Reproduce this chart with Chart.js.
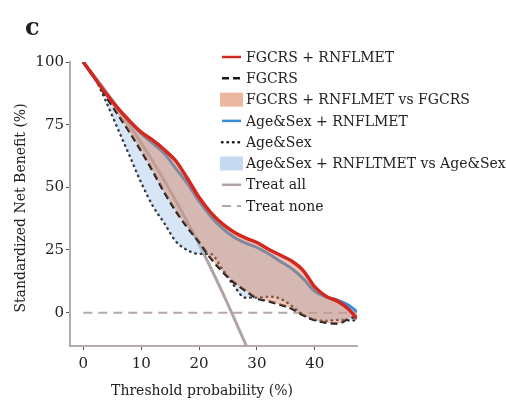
<!DOCTYPE html>
<html>
<head>
<meta charset="utf-8">
<script src="https://cdn.jsdelivr.net/npm/chart.js@4.4.1/dist/chart.umd.min.js"></script>
<style>
  html, body { margin: 0; padding: 0; background: #fff; }
  canvas { display: block; }
</style>
</head>
<body>
<canvas id="grafico" width="506" height="404"></canvas>
<script>
/* -------------------- DADOS -------------------- */
// threshold probability (%) shared by the four model curves
const thresholds    = [0, 2, 4, 6, 8, 10, 12, 14, 16, 18, 20, 22, 24, 26, 28, 30, 32, 34, 36, 38, 40, 42, 44, 46, 47.3];
const fgcrsRnflmet  = [100, 93.5, 87.2, 81.5, 76.5, 72, 68.8, 65, 60.5, 53.5, 46, 40, 35.5, 32.2, 29.8, 28, 25.3, 23, 20.6, 16.8, 10.3, 6.5, 4.5, 1.1, -2.4];
const fgcrs         = [100, 93.5, 86, 79, 72, 64.5, 56.5, 48, 40.5, 34, 28.2, 21.8, 16.5, 12.1, 8.8, 5.7, 4.6, 3.2, 1.6, -1, -3, -4, -4.3, -2.2, -1.5];
const ageSexRnflmet = [100, 93.5, 87.2, 81.5, 76.3, 71.5, 67.5, 63.5, 57.5, 51.5, 44.5, 38.5, 33.7, 30.2, 27.8, 26, 23.5, 20.5, 17.6, 13.6, 8.5, 6.2, 4.9, 2.8, 0.3];
const ageSex        = [100, 93.6, 84, 73.3, 62.7, 52, 42.7, 35.8, 28.5, 25, 23.5, 23.5, 17.6, 11, 6, 6, 6.4, 5.7, 2.8, -0.8, -2.8, -3.2, -2.8, -3, -3];

const treatAllX  = [0, 4, 8, 12, 16, 20, 24, 28.2];
const treatAllY  = [100, 88, 74.7, 60.4, 44.6, 27.3, 8.3, -13.3];
const treatNoneX = [0, 47.3];
const treatNoneY = [0, 0];

const xTicks = [0, 10, 20, 30, 40];
const yTicks = [0, 25, 50, 75, 100];

const legendLabels = [
    "FGCRS + RNFLMET",
    "FGCRS",
    "FGCRS + RNFLMET vs FGCRS",
    "Age&Sex + RNFLMET",
    "Age&Sex",
    "Age&Sex + RNFLTMET vs Age&Sex",
    "Treat all",
    "Treat none"
];
// which dataset each legend row comes from, and whether it shows the line or the fill
const legendSource = [[0, "line"], [1, "line"], [0, "fill"], [2, "line"], [3, "line"], [2, "fill"], [4, "line"], [5, "line"]];

const xTitle = "Threshold probability (%)";
const yTitle = "Standardized Net Benefit (%)";

/* -------------------- ESTILO -------------------- */
const FONTE = '"DejaVu Serif", serif';
const COR_EIXO = "#b5abab";
const COR_TEXTO = "#222";

function pontos(xs, ys) {
    return xs.map((x, i) => ({ x, y: ys[i] }));
}

/* -------------------- ANOTACOES (letra, titulos, legenda) -------------------- */
const anotacoes = {
    id: "anotacoes",
    afterDraw(chart) {
        const ctx = chart.ctx;
        ctx.save();
        ctx.fillStyle = COR_TEXTO;

        ctx.font = "bold 24px " + FONTE;
        ctx.textBaseline = "alphabetic";
        ctx.fillText("c", 25, 35);

        ctx.font = "14px " + FONTE;
        ctx.textAlign = "center";
        ctx.textBaseline = "middle";
        ctx.fillText(xTitle, 202, 391);

        ctx.save();
        ctx.translate(21, 208);
        ctx.rotate(-Math.PI / 2);
        ctx.fillText(yTitle, 0, 0);
        ctx.restore();

        // legenda
        ctx.textAlign = "left";
        legendLabels.forEach((txt, i) => {
            const y = 57 + i * 21.3;
            const [idx, tipo] = legendSource[i];
            const ds = chart.data.datasets[idx];
            if (tipo === "fill") {
                ctx.fillStyle = ds.legendFill;
                ctx.fillRect(220, y - 7, 23, 14);
            } else {
                ctx.save();
                ctx.strokeStyle = ds.borderColor;
                ctx.lineWidth = Math.min(ds.borderWidth, 2.5);
                ctx.lineCap = ds.borderCapStyle || "butt";
                ctx.setLineDash(ds.borderDash || []);
                ctx.beginPath();
                ctx.moveTo(222, y);
                ctx.lineTo(241, y);
                ctx.stroke();
                ctx.restore();
            }
            ctx.fillStyle = COR_TEXTO;
            ctx.fillText(txt, 246, y + 1);
        });
        ctx.restore();
    }
};

/* -------------------- GRAFICO -------------------- */
new Chart(document.getElementById("grafico"), {
    type: "line",
    data: {
        datasets: [
            {
                label: legendLabels[0],
                data: pontos(thresholds, fgcrsRnflmet),
                borderColor: "#d3281f",
                borderWidth: 3.5,
                backgroundColor: "rgba(214,128,96,0.45)",
                legendFill: "#ebb7a0",
                fill: { target: 1 }
            },
            {
                label: legendLabels[1],
                data: pontos(thresholds, fgcrs),
                borderColor: "#1a1a1a",
                borderWidth: 2.5,
                borderDash: [7, 4],
                fill: false
            },
            {
                label: legendLabels[3],
                data: pontos(thresholds, ageSexRnflmet),
                borderColor: "#3a8fd4",
                borderWidth: 3,
                backgroundColor: "rgba(165,200,235,0.45)",
                legendFill: "#c6dbf1",
                fill: { target: 3 }
            },
            {
                label: legendLabels[4],
                data: pontos(thresholds, ageSex),
                borderColor: "#1a1a1a",
                borderWidth: 2.5,
                borderDash: [0.5, 5],
                borderCapStyle: "round",
                fill: false
            },
            {
                label: legendLabels[6],
                data: pontos(treatAllX, treatAllY),
                borderColor: "#b1a4a4",
                borderWidth: 3,
                fill: false
            },
            {
                label: legendLabels[7],
                data: pontos(treatNoneX, treatNoneY),
                borderColor: "#b5a8a8",
                borderWidth: 2,
                borderDash: [9, 6],
                tension: 0,
                fill: false
            }
        ]
    },
    options: {
        responsive: false,
        animation: false,
        devicePixelRatio: 1,
        layout: { padding: { top: 62, right: 149, left: 0, bottom: 0 } },
        elements: {
            point: { radius: 0 },
            line: { cubicInterpolationMode: "monotone" }
        },
        plugins: {
            legend: { display: false },
            tooltip: { enabled: false }
        },
        scales: {
            x: {
                type: "linear",
                min: -2.3,
                max: 47.3,
                afterBuildTicks: s => { s.ticks = xTicks.map(v => ({ value: v })); },
                afterFit: s => { s.height = 58; },
                border: { color: COR_EIXO, width: 2 },
                grid: { drawOnChartArea: false, tickLength: 4, tickColor: "#555", tickWidth: 1 },
                ticks: { color: COR_TEXTO, font: { family: FONTE, size: 15 }, padding: 5, maxRotation: 0 }
            },
            y: {
                type: "linear",
                min: -13.3,
                max: 100,
                afterBuildTicks: s => { s.ticks = yTicks.map(v => ({ value: v })); },
                afterFit: s => { s.width = 70; },
                border: { color: COR_EIXO, width: 2 },
                grid: { drawOnChartArea: false, tickLength: 4, tickColor: "#555", tickWidth: 1 },
                ticks: { color: COR_TEXTO, font: { family: FONTE, size: 15 }, padding: 2 }
            }
        }
    },
    plugins: [anotacoes]
});
</script>
</body>
</html>
